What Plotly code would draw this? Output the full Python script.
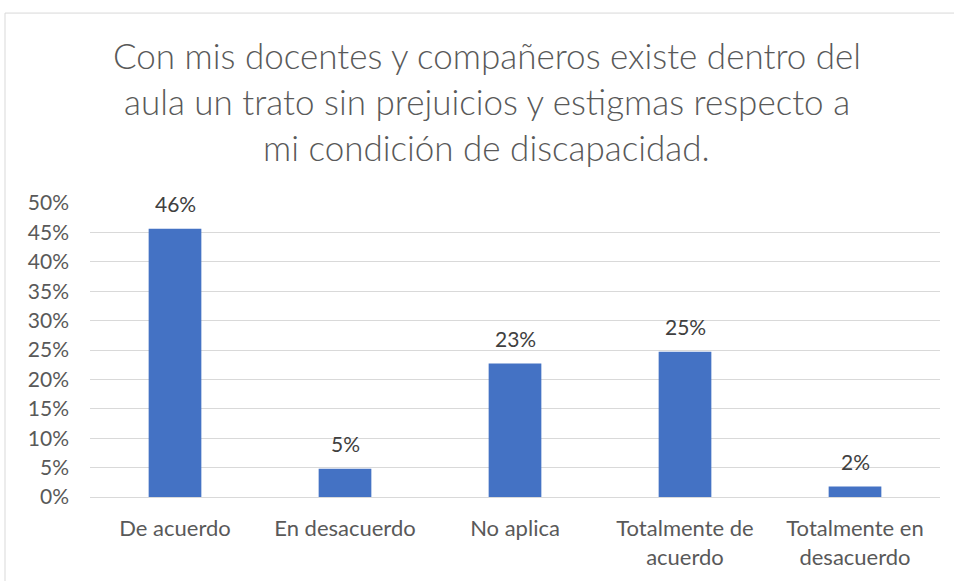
import plotly.graph_objects as go

categories = ["De acuerdo", "En desacuerdo", "No aplica", "Totalmente de acuerdo", "Totalmente en desacuerdo"]
tick_labels = ["De acuerdo", "En desacuerdo", "No aplica", "Totalmente de<br>acuerdo", "Totalmente en<br>desacuerdo"]
values = [0.456, 0.048, 0.227, 0.247, 0.018]
y_ticks = [0, 0.05, 0.10, 0.15, 0.20, 0.25, 0.30, 0.35, 0.40, 0.45, 0.50]
title_lines = [
    "Con mis docentes y compañeros existe dentro del",
    "aula un trato sin prejuicios y estigmas respecto a",
    "mi condición de discapacidad.",
]

FONT = "Lato"
TXT = "#595959"

fig = go.Figure()
fig.add_trace(go.Bar(
    x=categories, y=values,
    marker=dict(color="#4472C4", line=dict(width=0)),
    width=0.31,
    hoverinfo="x+y",
))

annotations = []
for c, v in zip(categories, values):
    annotations.append(dict(
        x=c, y=v, xref="x", yref="y", text=f"{v:.0%}", showarrow=False,
        yanchor="middle", xanchor="center", yshift=25,
        font=dict(family=FONT, size=21, color="#404040"),
    ))

title_y = [1.5034, 1.3469, 1.1905]
for line, yy in zip(title_lines, title_y):
    annotations.append(dict(
        x=0.4665, y=yy, xref="paper", yref="paper", text=line, showarrow=False,
        xanchor="center", yanchor="middle",
        font=dict(family=FONT, size=35, color=TXT, weight=300),
    ))

fig.update_layout(
    width=954, height=581,
    margin=dict(l=90, r=14, t=203, b=84, pad=0),
    paper_bgcolor="white", plot_bgcolor="white",
    showlegend=False,
    font=dict(family=FONT, size=22, color=TXT),
    annotations=annotations,
    shapes=[dict(type="rect", xref="paper", yref="paper",
                 x0=-0.1, x1=1.2, y0=-1.0, y1=1.646,
                 line=dict(color="#D9D9D9", width=1), fillcolor="rgba(0,0,0,0)", layer="below")],
)
fig.update_xaxes(
    tickmode="array", tickvals=categories, ticktext=tick_labels,
    showgrid=False, showline=True, linecolor="#D9D9D9", linewidth=1,
    ticks="", tickfont=dict(family=FONT, size=22, color=TXT),
    ticklabelstandoff=12,
)
fig.update_yaxes(
    range=[0, 0.5], tickmode="array", tickvals=y_ticks,
    tickformat=".0%", showgrid=True, gridcolor="#D9D9D9", gridwidth=1,
    zeroline=False, showline=False, ticks="",
    tickfont=dict(family=FONT, size=21, color=TXT),
    ticklabelstandoff=20,
)

fig.write_html("out.html", config={"displayModeBar": False},
               post_script="document.body.style.margin='0';")
